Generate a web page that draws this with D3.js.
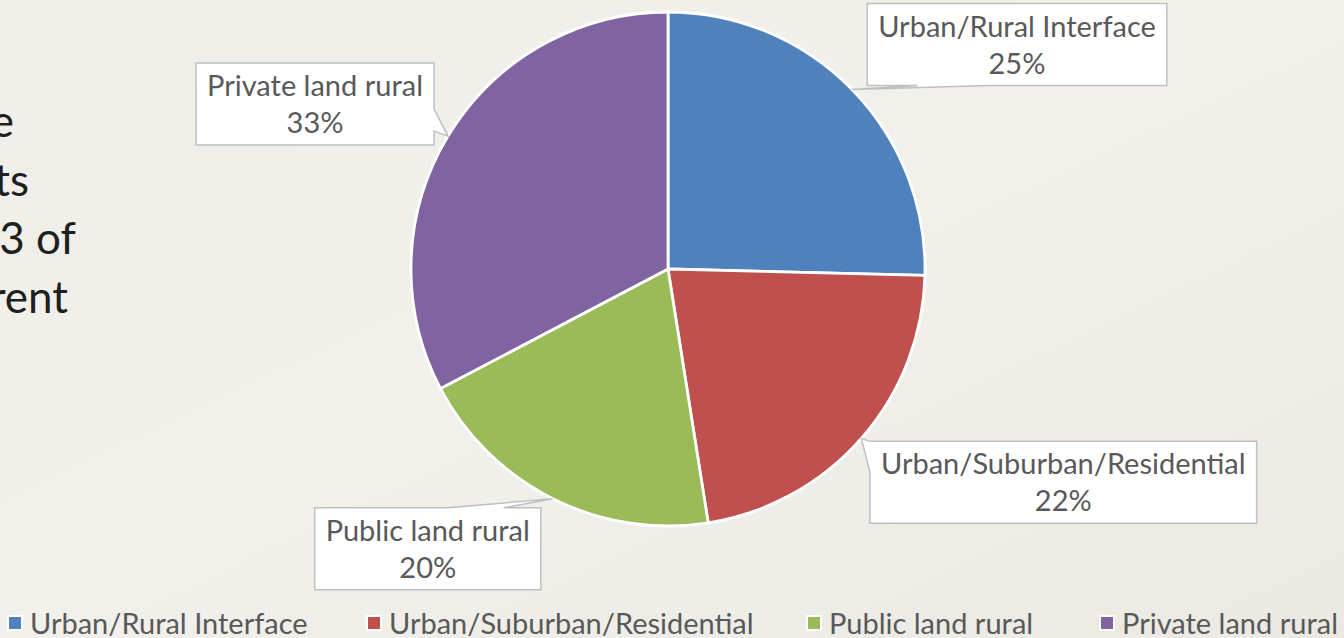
<!DOCTYPE html>
<html>
<head>
<meta charset="utf-8">
<script src="https://cdn.jsdelivr.net/npm/d3@7"></script>
<style>
  html, body { margin: 0; padding: 0; overflow: hidden; }
  body { width: 1344px; height: 638px; }
  text { font-family: Lato, "Open Sans", sans-serif; }
</style>
</head>
<body>
<div id="chart"></div>
<script>
const W = 1344, H = 638;

// data
const categories = ["Urban/Rural Interface", "Urban/Suburban/Residential", "Public land rural", "Private land rural"];
const shares = [25.4, 22.1, 19.8, 32.7];
const colors = ["#4f81bd", "#c0504d", "#9bbb59", "#8064a2"];
// slide body text, cut off at the left edge
const sideText = ["e", "ts", "3 of", "rent"];

// layout for the callouts: box centre offset from the pointer tip, pointer side and span
const callouts = [
  { dx: 165, dy: -45, side: "bottom", a: 50, b: 122 },
  { dx: 202, dy: 44, side: "left", a: 0, b: 31 },
  { dx: -125, dy: 50, side: "top", a: 133, b: 189 },
  { dx: -133, dy: -32, side: "right", a: 46, b: 68 }
];
const legendX = [8, 367, 807, 1100];

const cx = 668, cy = 269, radius = 257;

const svg = d3.select("#chart").append("svg")
  .attr("width", W).attr("height", H);

const defs = svg.append("defs");
const grad = defs.append("linearGradient").attr("id", "bg")
  .attr("x1", "0").attr("y1", "0").attr("x2", "1").attr("y2", "1");
grad.append("stop").attr("offset", "0").attr("stop-color", "#efeee9");
grad.append("stop").attr("offset", "0.5").attr("stop-color", "#f1f0eb");
grad.append("stop").attr("offset", "1").attr("stop-color", "#ebe9e2");
svg.append("rect").attr("width", W).attr("height", H).attr("fill", "url(#bg)");

// side text
svg.append("g").selectAll("text")
  .data(sideText)
  .join("text")
    .attr("x", (d, i) => [14, 29, 76, 68][i])
    .attr("y", (d, i) => 137 + i * 58.5)
    .attr("text-anchor", "end")
    .attr("font-size", 44)
    .attr("fill", "#1f1f1f")
    .text(d => d);

const pie = d3.pie().sort(null).value(d => d)(shares);
const arc = d3.arc().innerRadius(0).outerRadius(radius);
const edge = d3.arc().innerRadius(radius).outerRadius(radius);

const g = svg.append("g").attr("transform", `translate(${cx},${cy})`);
g.selectAll("path")
  .data(pie)
  .join("path")
    .attr("d", arc)
    .attr("fill", (d, i) => colors[i])
    .attr("stroke", "#fff")
    .attr("stroke-width", 2.8)
    .attr("stroke-linejoin", "round");

const fmt = d3.format(".0f");
const fontSize = 29;

function calloutPath(x, y, w, h, c, tx, ty) {
  const p = [[x, y]];
  if (c.side === "top") p.push([x + c.a, y], [tx, ty], [x + c.b, y]);
  p.push([x + w, y]);
  if (c.side === "right") p.push([x + w, y + c.a], [tx, ty], [x + w, y + c.b]);
  p.push([x + w, y + h]);
  if (c.side === "bottom") p.push([x + c.b, y + h], [tx, ty], [x + c.a, y + h]);
  p.push([x, y + h]);
  if (c.side === "left") p.push([x, y + c.b], [tx, ty], [x, y + c.a]);
  return "M" + p.map(q => q.join(",")).join("L") + "Z";
}

const labels = svg.append("g");
pie.forEach((d, i) => {
  const [ex, ey] = edge.centroid(d);
  const tx = cx + ex, ty = cy + ey;
  const c = callouts[i];
  const grp = labels.append("g");
  const path = grp.append("path");
  const t1 = grp.append("text").attr("text-anchor", "middle")
    .attr("font-size", fontSize).attr("fill", "#595959").text(categories[i]);
  const t2 = grp.append("text").attr("text-anchor", "middle")
    .attr("font-size", fontSize).attr("fill", "#595959").text(fmt(d.data) + "%");
  const w = t1.node().getComputedTextLength() + 22;
  const h = 82;
  const bx = tx + c.dx - w / 2, by = ty + c.dy - h / 2;
  path.attr("d", calloutPath(bx, by, w, h, c, tx, ty))
    .attr("fill", "#fff")
    .attr("stroke", "#bfbfbf")
    .attr("stroke-width", 1.5);
  t1.attr("x", bx + w / 2).attr("y", by + 33);
  t2.attr("x", bx + w / 2).attr("y", by + 70);
});

// legend
const legend = svg.append("g").selectAll("g")
  .data(categories)
  .join("g")
    .attr("transform", (d, i) => `translate(${legendX[i]},0)`);
legend.append("rect")
  .attr("x", 0).attr("y", 616).attr("width", 14).attr("height", 14)
  .attr("fill", (d, i) => colors[i])
  .attr("stroke", "#fff").attr("stroke-width", 2);
legend.append("text")
  .attr("x", 22).attr("y", 634)
  .attr("font-size", fontSize)
  .attr("fill", "#595959")
  .text(d => d);
</script>
</body>
</html>
